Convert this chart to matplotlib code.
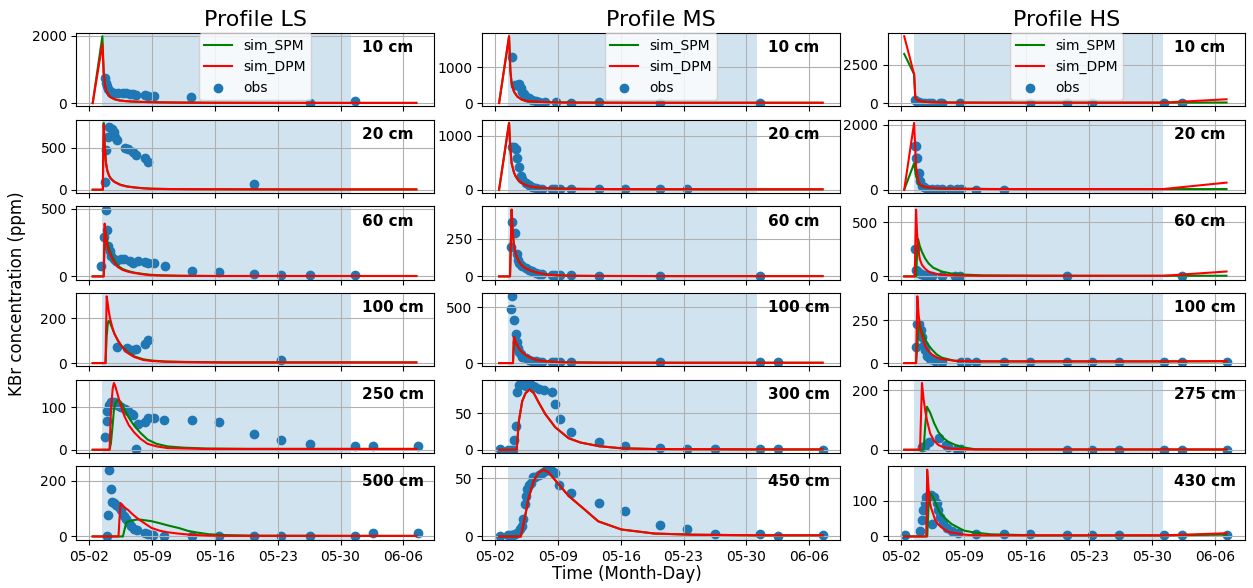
import numpy as np
import pandas as pd
import matplotlib
matplotlib.use('Agg')
import matplotlib.pyplot as plt
import matplotlib.dates as mdates

# time in days after 2023-05-02 00:00
start_day = pd.Timestamp('2023-05-02')
shade_start, shade_end = 1.46, 29.2

# ---------------- Profile LS ----------------
ls_depths = ['10 cm', '20 cm', '60 cm', '100 cm', '250 cm', '500 cm']
ls_sim_t = [
    [0.37, 1.45, 1.6, 1.75, 1.9, 2.1, 2.4, 2.8, 3.3, 4.0, 5.0, 6.5, 8, 10, 13, 17, 22, 29.2, 36.45],
    [0.37, 1.5, 1.6, 1.7, 1.85, 2.0, 2.2, 2.4, 2.8, 3.5, 4.2, 5.0, 6.0, 7.0, 9, 12, 16, 22, 29.2, 36.45],
    [0.37, 1.6, 1.7, 1.78, 1.9, 2.1, 2.4, 2.8, 3.15, 3.7, 4.3, 5.0, 6.0, 6.8, 8, 10, 14, 20, 29.2, 36.45],
    [0.37, 1.8, 1.93, 2.05, 2.15, 2.3, 2.55, 2.8, 3.2, 3.6, 4.3, 5.0, 6.0, 7.0, 8.5, 11, 15, 20, 29.2, 36.45],
    [0.37, 2.25, 2.4, 2.6, 2.74, 2.9, 3.2, 3.5, 3.9, 4.4, 5.0, 5.7, 6.5, 7.5, 8.7, 10.5, 13, 18, 29.2, 36.45],
    [0.37, 3.25, 3.35, 3.48, 3.74, 4.1, 4.3, 4.8, 5.4, 5.8, 6.9, 7.8, 8.7, 10, 11, 12, 13.3, 15, 18, 29.2, 36.45],
]
ls_spm = [
    [0, 1980, 900, 520, 360, 250, 170, 115, 80, 58, 42, 28, 20, 14, 10, 7, 5, 4, 4],
    [0, 0, 800, 560, 330, 230, 170, 135, 95, 58, 40, 28, 18, 12, 8, 6, 5, 4, 4, 4],
    [0, 0, 250, 340, 290, 225, 165, 115, 80, 55, 40, 28, 18, 12, 8, 5, 3, 3, 3, 3],
    [0, 0, 120, 175, 188, 180, 155, 130, 100, 76, 48, 30, 17, 11, 7, 5, 3, 3, 3, 3],
    [0, 0, 15, 60, 95, 110, 119, 113, 96, 76, 57, 40, 24, 14, 8, 5, 3, 2, 2, 2],
    [0, 0, 0, 0, 0, 49, 53, 58, 61, 60, 55, 48, 40, 30, 20, 14, 8, 5, 3, 2, 2],
]
ls_dpm = [
    [0, 1750, 880, 510, 355, 248, 168, 114, 80, 58, 42, 28, 20, 14, 10, 7, 5, 4, 4],
    [0, 0, 780, 540, 320, 225, 165, 130, 92, 56, 38, 27, 17, 11, 8, 6, 5, 4, 4, 4],
    [0, 0, 390, 330, 260, 200, 150, 100, 70, 48, 35, 25, 15, 9, 6, 4, 3, 3, 3, 3],
    [0, 0, 297, 265, 235, 200, 160, 130, 98, 74, 44, 27, 14, 9, 6, 4, 3, 3, 3, 3],
    [0, 0, 90, 145, 158, 150, 127, 105, 80, 58, 41, 26, 14, 8, 4, 3, 2, 2, 2, 2],
    [0, 0, 60, 120, 110, 100, 96, 80, 64, 55, 31, 21, 15, 10, 7, 5, 3, 2, 2, 2, 2],
]
ls_obs_t = [
    [1.7, 1.85, 1.95, 2.1, 2.25, 2.45, 2.8, 3.2, 3.75, 4.1, 4.5, 4.85, 5.2, 6.15, 6.5, 7.25, 11.3, 24.6, 29.6],
    [1.7, 1.8, 2.05, 2.15, 2.55, 2.75, 2.9, 3.1, 3.95, 4.3, 4.85, 5.2, 6.15, 6.5, 18.4],
    [1.35, 1.63, 1.8, 1.99, 2.07, 2.26, 2.4, 2.74, 3.0, 3.56, 3.9, 4.5, 4.85, 5.4, 6.15, 6.5, 7.26, 8.4,
     11.4, 14.4, 18.4, 21.4, 24.6, 29.6],
    [3.11, 4.2, 4.7, 5.2, 6.15, 6.5, 21.4],
    [1.7, 1.93, 2.0, 2.2, 2.37, 2.56, 2.74, 3.04, 3.3, 3.56, 3.93, 4.3, 4.74, 4.85, 5.19, 5.41, 6.22, 6.59,
     7.26, 8.37, 11.4, 14.4, 18.4, 21.4, 24.6, 29.6, 31.6, 36.6],
    [1.93, 2.07, 2.2, 2.45, 2.56, 2.78, 3.0, 3.26, 3.52, 3.81, 4.1, 4.37, 4.63, 4.93, 5.3, 6.15, 6.52, 7.07,
     8.37, 11.4, 14.4, 18.4, 21.4, 24.6, 29.6, 31.6, 36.6],
]
ls_obs = [
    [750, 580, 520, 430, 350, 310, 300, 290, 310, 295, 270, 265, 240, 240, 215, 212, 175, 0, 75],
    [90, 470, 630, 750, 725, 690, 635, 590, 500, 490, 450, 420, 385, 330, 65],
    [77, 290, 493, 343, 222, 186, 150, 126, 113, 126, 126, 113, 101, 113, 106, 101, 101, 77,
     41, 29, 17, 10, 10, 10],
    [70, 65, 57, 61, 87, 101, 13],
    [30, 67, 92, 105, 112, 109, 113, 105, 104, 100, 96, 92, 84, 82, 2, 61, 65, 76,
     74, 70, 70, 65, 37, 22, 14, 10, 8, 10],
    [2, 76, 240, 170, 125, 120, 114, 105, 95, 72, 61, 50, 37, 26, 22, 14, 8, 4,
     3, 2, 2, 2, 2, 2, 2, 12, 12],
]

# ---------------- Profile MS ----------------
ms_depths = ['10 cm', '20 cm', '60 cm', '100 cm', '300 cm', '450 cm']
ms_sim_t = [
    [0.44, 1.55, 1.7, 1.84, 2.1, 2.47, 3.0, 3.5, 4.1, 5, 6.7, 9, 14, 20, 29.2, 36.5],
    [0.44, 1.55, 1.7, 1.84, 2.1, 2.28, 2.6, 3.0, 3.5, 4.1, 5, 6.7, 9, 14, 20, 29.2, 36.5],
    [0.44, 1.66, 1.84, 1.95, 2.1, 2.35, 2.65, 3.0, 3.39, 4.0, 4.5, 5.2, 5.97, 7, 8.5, 12, 20, 29.2, 36.5],
    [0.44, 1.99, 2.1, 2.3, 2.65, 3.0, 3.39, 4.0, 4.5, 5.2, 5.97, 7, 8.5, 12, 20, 29.2, 36.5],
    [0.44, 2.4, 2.65, 3.02, 3.39, 3.83, 4.31, 4.86, 5.6, 6.7, 8.18, 9.5, 11.57, 14.07, 17.75, 29.2, 36.5],
    [0.44, 2.87, 3.2, 3.76, 4.31, 4.86, 5.41, 5.97, 7.07, 8.18, 10.0, 11.5, 14.07, 17.75, 22, 29.2, 36.5],
]
ms_dpm = [
    [0, 1864, 900, 545, 318, 182, 91, 62, 45, 32, 18, 13, 10, 8, 8, 8],
    [0, 1240, 750, 491, 320, 251, 170, 120, 80, 54, 38, 24, 16, 11, 9, 8, 8],
    [0, 0, 446, 300, 207, 140, 98, 72, 54, 38, 28, 18, 11, 7, 4, 3, 2, 2, 2],
    [0, 0, 233, 185, 131, 98, 73, 45, 29, 20, 15, 9, 6, 4, 3, 3, 3],
    [0, 0, 40, 67, 78, 83, 78, 65, 49, 31, 16, 10, 5, 2, 1, 0.5, 0.5],
    [0, 0, 12, 34, 48, 55, 57.5, 55, 45, 35, 23, 13, 6, 2.5, 1.5, 1, 1],
]
ms_spm = ms_dpm  # hidden under the DPM line
ms_obs_t = [
    [1.92, 2.17, 2.39, 2.65, 2.84, 3.02, 3.2, 3.46, 3.76, 4.13, 4.5, 4.86, 5.52, 6.78, 8.47, 11.57, 18.4, 29.5],
    [1.84, 2.1, 2.36, 2.47, 2.65, 2.84, 3.02, 3.39, 3.76, 4.13, 4.5, 4.86, 5.23, 6.34, 6.7, 7.26, 8.47,
     11.57, 14.44, 18.4, 21.4],
    [1.73, 1.92, 2.21, 2.39, 2.54, 2.65, 2.84, 3.02, 3.39, 3.76, 4.13, 4.5, 4.86, 5.23, 6.34, 6.7, 7.26,
     8.47, 11.57, 18.4, 29.5],
    [1.73, 1.92, 2.1, 2.28, 2.39, 2.5, 2.65, 2.84, 3.02, 3.39, 3.76, 4.13, 4.5, 4.86, 5.23, 6.34, 6.7,
     7.26, 8.47, 18.4, 29.5, 31.5],
    [0.52, 1.47, 1.73, 1.99, 2.14, 2.28, 2.39, 2.65, 2.91, 3.2, 3.46, 3.68, 3.94, 4.2, 4.49, 4.86, 5.41,
     6.34, 6.7, 7.26, 8.47, 11.57, 14.44, 18.4, 21.4, 24.5, 29.5, 31.5, 36.5],
    [0.52, 1.47, 1.73, 1.99, 2.21, 2.47, 2.73, 2.95, 3.13, 3.31, 3.46, 3.57, 3.76, 4.05, 4.24, 4.49, 4.86,
     5.23, 5.6, 6.04, 6.34, 6.7, 7.07, 8.47, 11.57, 14.44, 18.4, 21.4, 24.5, 29.5, 31.5, 36.5],
]
ms_obs = [
    [1291, 500, 500, 527, 409, 318, 255, 182, 136, 91, 64, 18, 18, 18, 0, 27, 0, 0],
    [802, 790, 760, 581, 431, 251, 192, 132, 84, 54, 24, 12, 6, 6, 6, 6, 6, 6, 6, 6, 6],
    [196, 363, 289, 152, 109, 87, 76, 72, 59, 43, 33, 24, 17, 13, 11, 11, 9, 7, 0, 0, 0],
    [480, 596, 387, 262, 189, 137, 102, 78, 58, 44, 29, 20, 15, 9, 9, 6, 6, 6, 6, 6, 6, 6],
    [1, 0, 0, 0, 14, 33, 79, 89, 90, 89, 88, 92, 90, 88, 86, 84, 83, 80, 63, 43, 25, 11, 5, 2, 1, 1, 1, 1, 0],
    [0.5, 1.4, 1.4, 1.4, 2, 3.3, 6.7, 9, 15, 28, 35, 41, 44, 46, 51, 51, 53, 55, 56, 57, 56, 55, 44, 37,
     29, 22, 10, 6, 2.5, 2, 0.5, 1.4],
]

# ---------------- Profile HS ----------------
hs_depths = ['10 cm', '20 cm', '60 cm', '100 cm', '275 cm', '430 cm']
hs_sim_t = [
    [0.37, 1.47, 1.61, 1.8, 2.0, 2.3, 2.7, 3.3, 4.5, 6.5, 10, 15, 22, 29.2, 36.3],
    [0.37, 1.47, 1.69, 1.98, 2.3, 2.71, 3.5, 4.55, 6.5, 10, 15, 22, 29.2, 36.3],
    [0.37, 1.54, 1.69, 1.8, 1.91, 2.1, 2.35, 2.7, 3.08, 3.6, 4.55, 6, 9, 15, 22, 29.2, 36.3],
    [0.37, 1.69, 1.83, 1.98, 2.16, 2.4, 2.71, 3.0, 3.45, 4.0, 4.55, 6, 9, 15, 22, 29.2, 36.3],
    [0.37, 2.13, 2.35, 2.53, 2.71, 2.9, 3.26, 3.7, 4.18, 4.7, 5.28, 6.0, 6.75, 8.2, 12, 20, 29.2, 36.3],
    [0.37, 2.82, 2.93, 3.1, 3.26, 3.37, 3.81, 4.18, 4.55, 5.28, 5.65, 6.75, 7.11, 8.21, 10.05, 15, 22, 29.2, 36.3],
]
hs_spm = [
    [3187, 1875, 312, 200, 167, 120, 83, 60, 42, 35, 30, 30, 30, 30, 42],
    [0, 812, 416, 168, 110, 75, 52, 36, 28, 22, 20, 20, 20, 20],
    [0, 0, 0, 200, 344, 280, 225, 165, 120, 80, 45, 20, 10, 7, 6, 6, 6],
    [0, 0, 100, 240, 210, 180, 140, 110, 80, 50, 32, 13, 10, 10, 10, 10, 10],
    [0, 0, 0, 0, 80, 145, 125, 90, 60, 40, 27, 17, 9, 2, 1, 1, 1, 1],
    [0, 0, 0, 95, 115, 120, 98, 75, 60, 43, 35, 20, 16, 11, 6, 3, 3, 3, 5],
]
hs_dpm = [
    [4333, 1875, 312, 200, 167, 120, 83, 60, 42, 35, 30, 30, 30, 30, 250],
    [0, 2050, 713, 218, 130, 89, 60, 40, 30, 22, 20, 20, 20, 218],
    [0, 0, 614, 400, 270, 160, 105, 70, 45, 28, 15, 8, 5, 5, 5, 5, 45],
    [0, 0, 392, 280, 203, 150, 98, 75, 51, 33, 23, 14, 10, 10, 10, 10, 12],
    [0, 0, 225, 170, 132, 100, 55, 30, 16, 9, 5, 3, 2, 1, 1, 1, 1, 1],
    [0, 0, 188, 130, 93, 80, 47, 33, 25, 13, 11, 6, 5, 3, 3, 3, 3, 3, 9],
]
hs_obs_t = [
    [1.61, 1.8, 2.05, 2.35, 2.71, 3.15, 3.45, 4.36, 4.62, 6.64, 14.34, 18.48, 21.3, 29.3, 31.3],
    [1.62, 1.72, 1.66, 1.76, 1.98, 2.16, 2.35, 2.53, 2.9, 3.45, 4.0, 4.55, 5.46, 6.2, 6.75, 8.4, 11.5],
    [1.58, 1.69, 1.8, 1.91, 2.05, 2.27, 2.53, 2.9, 3.45, 4.55, 6.0, 6.64, 18.48, 31.3],
    [1.65, 1.76, 2.05, 2.2, 2.35, 2.53, 2.71, 2.9, 3.26, 3.81, 4.55, 6.67, 7.33, 8.4, 11.5, 14.34, 18.48,
     21.3, 24.35, 29.3, 31.3, 36.3],
    [2.35, 2.71, 3.15, 4.25, 4.99, 5.28, 6.2, 6.67, 18.48, 21.3, 24.35, 29.3, 31.3, 36.3],
    [0.44, 2.16, 2.35, 2.49, 2.64, 2.82, 3.08, 3.37, 3.52, 3.74, 4.0, 4.18, 4.36, 4.73, 5.1, 5.65, 6.38,
     8.4, 11.5, 14.34, 18.48, 21.3, 24.35, 29.3, 31.3, 36.3],
]
hs_obs = [
    [208, 80, 50, 40, 30, 20, 20, 10, 10, 10, 5, 5, 5, 5, 5],
    [1356, 1356, 980, 980, 515, 267, 119, 69, 20, 20, 20, 20, 20, 20, 20, 0, 0],
    [254, 60, 51, 39, 30, 21, 15, 9, 6, 3, 6, 6, 0, 6],
    [93, 231, 231, 193, 155, 108, 74, 42, 23, 13, 4, 9, 9, 4, 4, 4, 8, 8, 8, 4, 4, 8],
    [11, 13, 27, 38, 16, 9, 2, 2, 0, 0, 0, 0, 0, 0],
    [4, 14, 47, 75, 93, 111, 113, 118, 36, 111, 93, 75, 56, 38, 25, 15, 11, 6, 6, 6, 4, 4, 4, 4, 4, 4],
]


def to_date(days):
    return start_day + pd.to_timedelta(np.asarray(days, dtype=float), unit='D')


profiles = [
    ('Profile LS', ls_depths, ls_sim_t, ls_spm, ls_dpm, ls_obs_t, ls_obs),
    ('Profile MS', ms_depths, ms_sim_t, ms_spm, ms_dpm, ms_obs_t, ms_obs),
    ('Profile HS', hs_depths, hs_sim_t, hs_spm, hs_dpm, hs_obs_t, hs_obs),
]

fig, axes = plt.subplots(6, 3, figsize=(12.53, 5.88), dpi=100, sharex=True)
fig.subplots_adjust(left=0.061, right=0.994, top=0.944, bottom=0.082, hspace=0.18, wspace=0.135)

for j, (title, depths, sim_t, spm, dpm, obs_t, obs) in enumerate(profiles):
    for i in range(6):
        ax = axes[i, j]
        ax.axvspan(to_date(shade_start), to_date(shade_end), alpha=0.2)
        ax.plot(to_date(sim_t[i]), spm[i], color='green', label='sim_SPM')
        ax.plot(to_date(sim_t[i]), dpm[i], color='red', label='sim_DPM')
        ax.scatter(to_date(obs_t[i]), obs[i], label='obs')
        ax.text(0.8, 0.9, depths[i], transform=ax.transAxes, fontsize=11,
                fontweight='bold', ha='left', va='top')
        ax.grid(True)
    axes[0, j].set_title(title, fontsize=16, pad=5)
    axes[0, j].legend(loc='upper center', bbox_to_anchor=(0.5, 1.0), borderaxespad=0)

ax = axes[-1, 0]
ax.set_xticks(pd.date_range('2023-05-02', periods=6, freq='7D'))
ax.xaxis.set_major_formatter(mdates.DateFormatter('%m-%d'))

fig.supxlabel('Time (Month-Day)', fontsize=12, y=0.008)
fig.supylabel('KBr concentration (ppm)', fontsize=12, x=0.006)

fig.savefig('out.png', dpi=100)
